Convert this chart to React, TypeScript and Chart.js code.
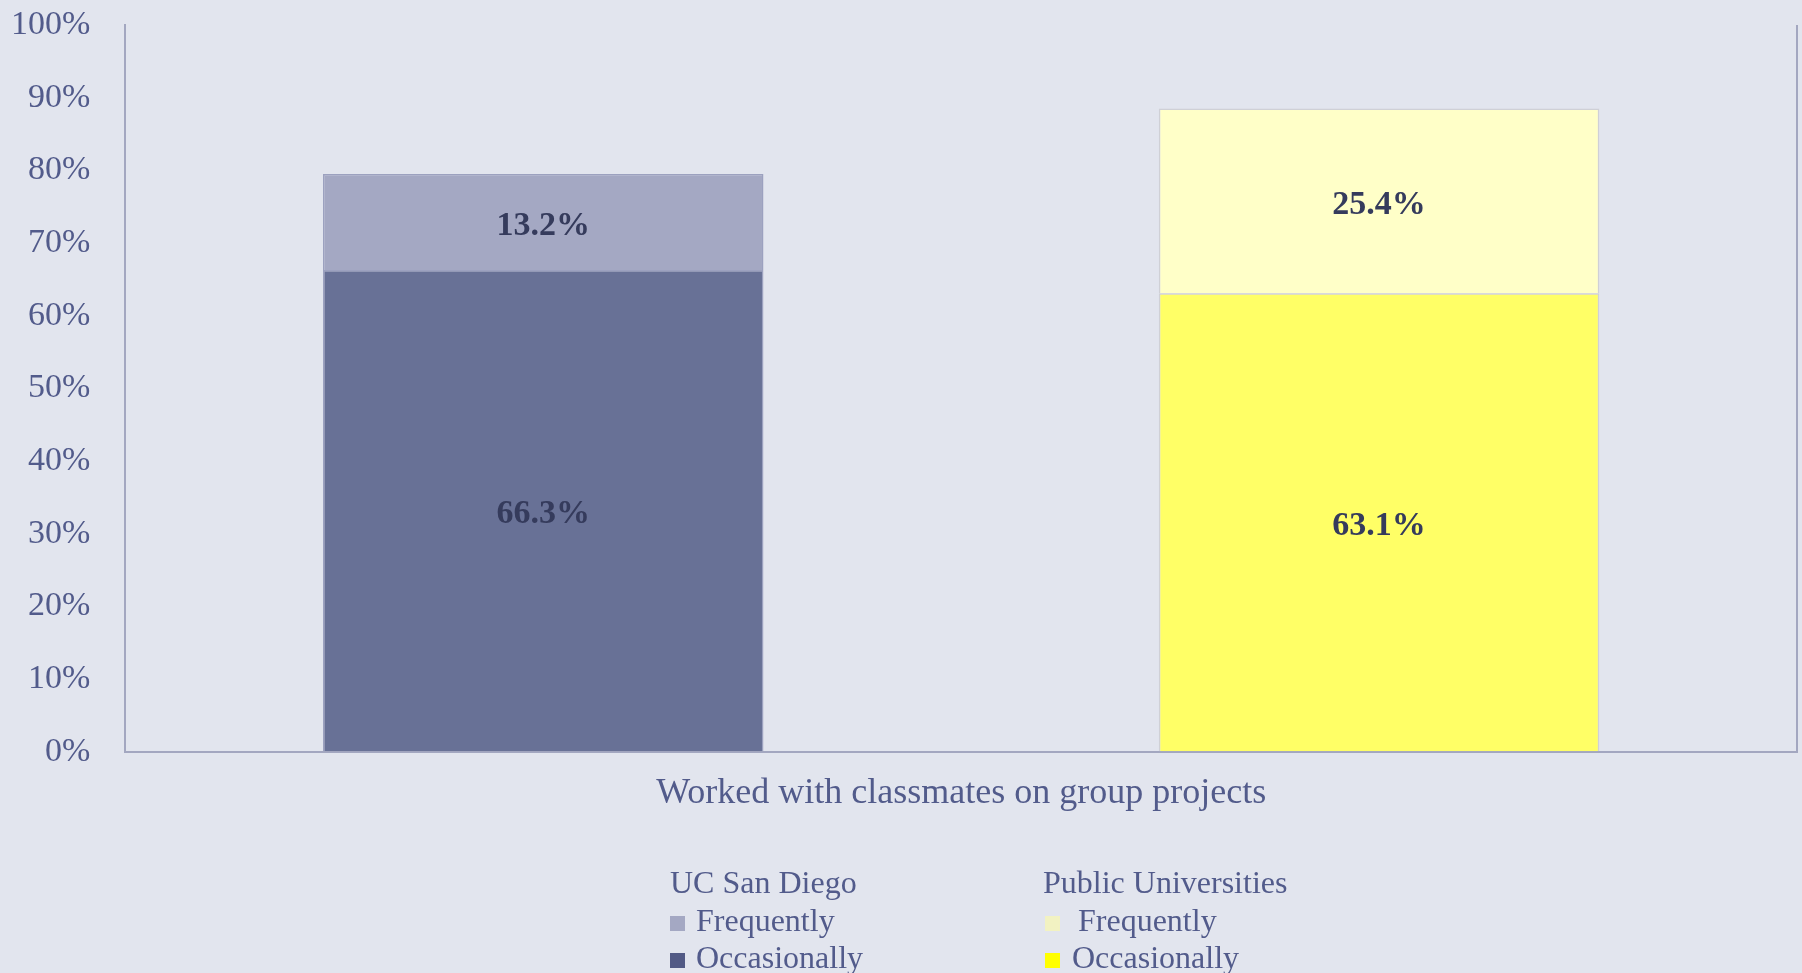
import React, { useEffect, useRef } from "react";
import { Chart, registerables } from "chart.js";

Chart.register(...registerables);

const categories = ["UC San Diego", "Public Universities"];
const occasionally = [66.3, 63.1];
const frequently = [13.2, 25.4];
const axisTitle = "Worked with classmates on group projects";
const yTicks = [0, 10, 20, 30, 40, 50, 60, 70, 80, 90, 100];

const BG = "#e2e5ee";
const TEXT = "#525b8b";
const LABEL = "#353b5c";
const AXIS = "#a3a7c0";
const FONT = "'Liberation Serif', 'Times New Roman', serif";

const occColors = ["#687196", "#ffff66"];
const freqColors = ["#a4a8c3", "#ffffc8"];
const borderColors = ["#9ca1bf", "#cfd0d6"];

const labelsPlugin = {
  id: "segLabels",
  afterDatasetsDraw(chart: any) {
    const ctx = chart.ctx;
    ctx.save();
    ctx.font = `bold 34px ${FONT}`;
    ctx.fillStyle = LABEL;
    ctx.textAlign = "center";
    ctx.textBaseline = "middle";
    chart.data.datasets.forEach((ds: any, i: number) => {
      const meta = chart.getDatasetMeta(i);
      meta.data.forEach((el: any, j: number) => {
        const p = el.getCenterPoint();
        ctx.fillText(ds.data[j].toFixed(1) + "%", p.x, p.y + 4);
      });
    });
    ctx.restore();
  },
};

const framePlugin = {
  id: "rightFrame",
  afterDraw(chart: any) {
    const { ctx, chartArea } = chart;
    ctx.save();
    ctx.strokeStyle = AXIS;
    ctx.lineWidth = 2;
    ctx.beginPath();
    ctx.moveTo(chartArea.right, chartArea.top);
    ctx.lineTo(chartArea.right, chartArea.bottom + 1);
    ctx.stroke();
    ctx.restore();
  },
};

export default function App() {
  const ref = useRef<HTMLCanvasElement>(null);
  useEffect(() => {
    const chart = new Chart(ref.current as HTMLCanvasElement, {
      type: "bar",
      data: {
        labels: categories,
        datasets: [
          {
            label: "Occasionally",
            data: occasionally,
            backgroundColor: occColors,
            borderColor: borderColors,
            borderWidth: 1.5,
          },
          {
            label: "Frequently",
            data: frequently,
            backgroundColor: freqColors,
            borderColor: borderColors,
            borderWidth: 1.5,
          },
        ],
      },
      options: {
        animation: false,
        responsive: true,
        maintainAspectRatio: false,
        datasets: { bar: { categoryPercentage: 1, barPercentage: 0.527 } },
        layout: { padding: { left: 8, right: 5, top: 25, bottom: 153 } },
        plugins: { legend: { display: false }, tooltip: { enabled: false } },
        scales: {
          x: {
            stacked: true,
            grid: { display: false, drawTicks: false },
            border: { display: true, color: AXIS, width: 2 },
            ticks: { display: false },
            title: {
              display: true,
              text: axisTitle,
              color: TEXT,
              font: { family: FONT, size: 36 },
              padding: { top: 20, bottom: 5 },
            },
          },
          y: {
            stacked: true,
            min: 0,
            max: 100,
            afterBuildTicks: (axis: any) => {
              axis.ticks = yTicks.map((v) => ({ value: v }));
            },
            grid: {
              display: true,
              drawOnChartArea: false,
              drawTicks: true,
              tickLength: 32,
              color: "rgba(0,0,0,0)",
            },
            border: { display: true, color: AXIS, width: 2 },
            ticks: {
              color: TEXT,
              font: { family: FONT, size: 34 },
              padding: 3,
              callback: (v: any) => v + "%",
            },
          },
        },
      },
      plugins: [labelsPlugin, framePlugin],
    });
    return () => chart.destroy();
  }, []);

  const sq = (c: string, mr: number, ml = 0) => (
    <span
      style={{
        display: "inline-block",
        width: 15,
        height: 15,
        background: c,
        marginRight: mr,
        marginLeft: ml,
      }}
    />
  );

  const colStyle: React.CSSProperties = {
    position: "absolute",
    top: 864,
    fontFamily: FONT,
    fontSize: 32,
    lineHeight: "37.5px",
    color: TEXT,
    whiteSpace: "nowrap",
  };

  return (
    <div
      style={{
        position: "fixed",
        left: 0,
        top: 0,
        width: 1802,
        height: 973,
        background: BG,
        overflow: "hidden",
      }}
    >
      <div style={{ position: "absolute", left: 0, top: 0, width: 1802, height: 973 }}>
        <canvas ref={ref} />
      </div>
      <div style={{ ...colStyle, left: 670 }}>
        <div>UC San Diego</div>
        <div>{sq("#a4a8c3", 11)}Frequently</div>
        <div>{sq("#525a85", 11)}Occasionally</div>
      </div>
      <div style={{ ...colStyle, left: 1043 }}>
        <div>Public Universities</div>
        <div>{sq("#f2f2c2", 18, 2)}Frequently</div>
        <div>{sq("#ffff00", 12, 2)}Occasionally</div>
      </div>
    </div>
  );
}
